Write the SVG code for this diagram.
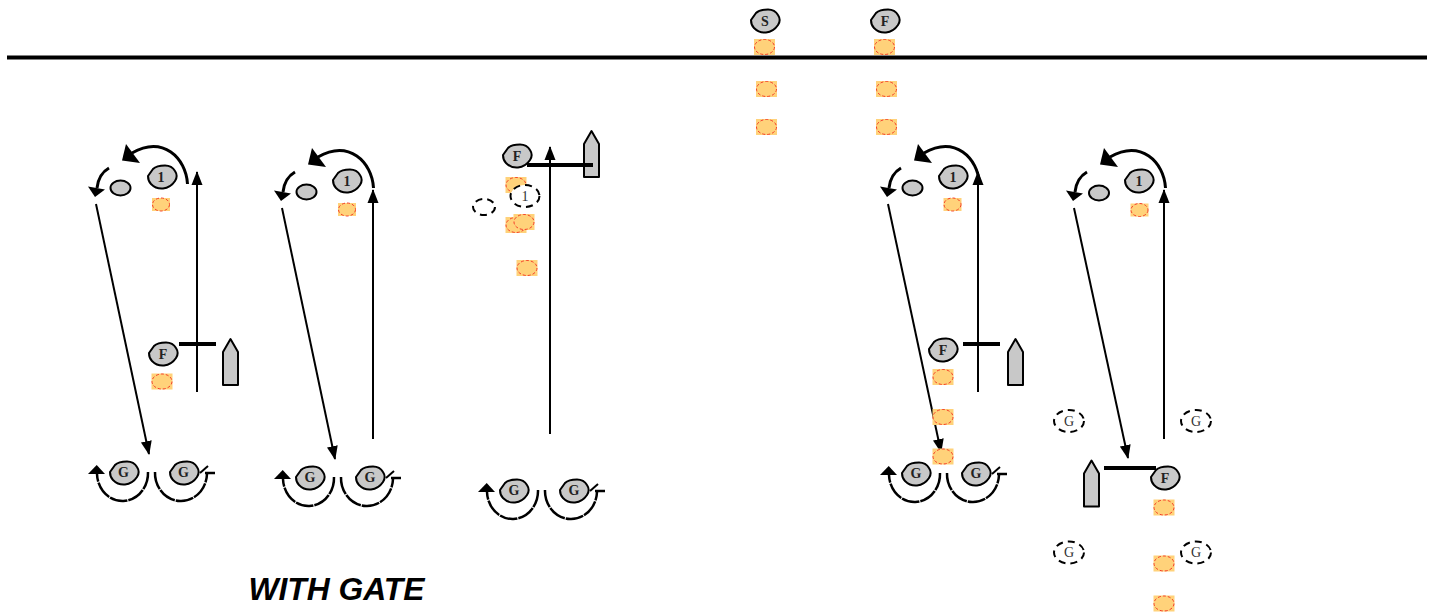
<svg xmlns="http://www.w3.org/2000/svg" width="1435" height="615" viewBox="0 0 1435 615">
<style>
text{font-family:"Liberation Serif","Times New Roman",serif;text-anchor:middle}
.pl{fill:#c8c8c8;stroke:#000;stroke-width:2;stroke-linejoin:round}
.lb{font-size:14px;font-weight:bold;fill:#222}
.gh{fill:#fff;stroke:#000;stroke-width:2;stroke-dasharray:7 5}
.gt{font-size:14px;fill:#333}
.c{fill:none;stroke:#000;stroke-width:2}
.t{fill:none;stroke:#000;stroke-width:3}
.b{fill:none;stroke:#000;stroke-width:2.500;stroke-dasharray:18 1}
.bar{stroke:#000;stroke-width:4}
.hd{fill:#000}
</style>
<defs>
<path id="pp" class="pl" d="M-14,-1 L-9,-8 C-6,-11 -2,-11.500 3,-11.500 C8,-11.500 11,-9.500 13,-6 C15,-3 15,1 13,4 C10,8.500 6,11 1,11.500 C-4,12 -8,10 -11,7 C-13,5 -14,2 -14,-1 Z"/>
<path id="bt" class="pl" d="M-7.500,46 L-7.500,13 L0,0 L7.500,13 L7.500,46 Z"/>
<g id="tg"><rect x="-10.500" y="-8" width="21" height="16" fill="#ffd27a"/><ellipse rx="10" ry="7.500" fill="#ffd27a" stroke="#f53c28" stroke-width="1" stroke-dasharray="3 2"/></g>
<g id="ts"><rect x="-9" y="-6.500" width="18" height="13" fill="#ffd27a"/><ellipse rx="8.500" ry="6.500" fill="#ffd27a" stroke="#f53c28" stroke-width="1" stroke-dasharray="3 2"/></g>
<marker id="ah" markerUnits="userSpaceOnUse" markerWidth="14" markerHeight="12" refX="13" refY="6" orient="auto"><path class="hd" d="M0,0.500 L14,6 L0,11.500 Z"/></marker>
<g id="turn">
<path class="t" d="M187.500,184 C186,158 163,135 132,153"/>
<path class="hd" d="M126,144 L140,163 L122,160.500 Z"/>
<path class="t" d="M109,168 C102,172 98,179 97,188"/>
<path class="hd" d="M88,186.500 L105,189.500 L95,197 Z"/>
</g>
<g id="pair">
<path class="b" d="M148,472 A25.500,28 0 0 1 97,474"/>
<path class="hd" d="M88,474 L96.700,465 L105,474 Z"/>
<path class="b" d="M155,472 A26,28 0 0 0 207,474"/>
<path d="M200,473 L208,466" stroke="#000" stroke-width="2"/>
<path d="M205,473 L215,473" stroke="#000" stroke-width="2.500"/>
</g>
</defs>

<g id="connectors">
<line x1="7" y1="57.500" x2="1427" y2="57.500" stroke="#000" stroke-width="4"/>
<use href="#turn"/>
<line class="c" x1="96" y1="204" x2="149" y2="454" marker-end="url(#ah)"/>
<line class="c" x1="197" y1="392" x2="197" y2="172" marker-end="url(#ah)"/>
<use href="#pair"/>
<use href="#turn" transform="translate(186,4)"/>
<line class="c" x1="282" y1="208" x2="335" y2="459" marker-end="url(#ah)"/>
<line class="c" x1="373" y1="439" x2="373" y2="190" marker-end="url(#ah)"/>
<use href="#pair" transform="translate(186,5)"/>
<line class="c" x1="550" y1="434" x2="550" y2="147" marker-end="url(#ah)"/>
<use href="#pair" transform="translate(390,18)"/>
<use href="#turn" transform="translate(792,0)"/>
<line class="c" x1="888" y1="204" x2="941" y2="452" marker-end="url(#ah)"/>
<line class="c" x1="978" y1="392" x2="978" y2="172" marker-end="url(#ah)"/>
<use href="#pair" transform="translate(792,1)"/>
<use href="#turn" transform="translate(978,4)"/>
<line class="c" x1="1074" y1="208" x2="1128" y2="458" marker-end="url(#ah)"/>
<line class="c" x1="1164" y1="439" x2="1164" y2="190" marker-end="url(#ah)"/>
</g>

<g id="top-s"><use href="#pp" x="765" y="21"/><text class="lb" x="765" y="25.500">S</text><use href="#tg" x="764.500" y="47"/><use href="#tg" x="766.500" y="89"/><use href="#tg" x="766.500" y="127"/></g>
<g id="top-f"><use href="#pp" x="885" y="21"/><text class="lb" x="885" y="25.500">F</text><use href="#tg" x="884.500" y="47"/><use href="#tg" x="886.500" y="89"/><use href="#tg" x="886.500" y="127"/></g>

<g id="set1">
<use href="#pp" x="162" y="177"/><text class="lb" x="161" y="181.500">1</text>
<ellipse class="pl" cx="120.500" cy="188" rx="10" ry="7.500"/>
<use href="#ts" x="161" y="204.500"/>
<use href="#pp" x="163" y="354"/><text class="lb" x="163" y="358.500">F</text>
<use href="#tg" x="162" y="381.500"/>
<line class="bar" x1="179" y1="344" x2="216" y2="344"/>
<use href="#bt" x="230.500" y="339"/>
<use href="#pp" x="124" y="473"/><text class="lb" x="123.500" y="477">G</text>
<use href="#pp" x="184" y="473"/><text class="lb" x="183.500" y="477">G</text>
</g>

<g id="set2">
<use href="#pp" x="347" y="181"/><text class="lb" x="347" y="185.500">1</text>
<ellipse class="pl" cx="306.500" cy="192" rx="10" ry="7.500"/>
<use href="#ts" x="347" y="209.500"/>
<use href="#pp" x="310" y="478"/><text class="lb" x="310" y="482">G</text>
<use href="#pp" x="370" y="478"/><text class="lb" x="370" y="482">G</text>
</g>

<g id="set3">
<use href="#tg" x="516" y="185"/><use href="#tg" x="516" y="225"/><use href="#tg" x="524" y="222"/><use href="#tg" x="527" y="268"/>
<ellipse class="gh" cx="525" cy="196" rx="14.500" ry="11"/><text class="gt" x="525" y="200.500">1</text>
<ellipse class="gh" cx="484" cy="207" rx="11" ry="8"/>
<line class="bar" x1="527" y1="165" x2="593" y2="165"/>
<use href="#pp" x="517" y="156"/><text class="lb" x="517" y="160.500">F</text>
<use href="#bt" x="591.500" y="131"/>
<line class="bar" x1="527" y1="165" x2="593" y2="165"/>
<use href="#pp" x="514" y="491"/><text class="lb" x="514" y="495">G</text>
<use href="#pp" x="574" y="491"/><text class="lb" x="574" y="495">G</text>
</g>

<g id="set5">
<use href="#pp" x="953" y="177"/><text class="lb" x="953" y="181.500">1</text>
<ellipse class="pl" cx="912.500" cy="188" rx="10" ry="7.500"/>
<use href="#ts" x="952.500" y="204.500"/>
<use href="#pp" x="943" y="350"/><text class="lb" x="943" y="354.500">F</text>
<use href="#tg" x="943" y="377"/><use href="#tg" x="943" y="417"/><use href="#tg" x="943" y="456.500"/>
<line class="bar" x1="963" y1="344" x2="1000" y2="344"/>
<use href="#bt" x="1015.500" y="339"/>
<use href="#pp" x="916" y="474"/><text class="lb" x="916" y="478">G</text>
<use href="#pp" x="976" y="474"/><text class="lb" x="976" y="478">G</text>
</g>

<g id="set6">
<use href="#pp" x="1139" y="181"/><text class="lb" x="1139" y="185.500">1</text>
<ellipse class="pl" cx="1099" cy="193" rx="10" ry="7.500"/>
<use href="#ts" x="1139.500" y="210"/>
<line class="bar" x1="1104" y1="468" x2="1156" y2="468"/>
<use href="#bt" x="1091.500" y="460.500"/>
<use href="#pp" x="1165" y="478"/><text class="lb" x="1165" y="482.500">F</text>
<use href="#tg" x="1164" y="507.500"/><use href="#tg" x="1164" y="563.500"/><use href="#tg" x="1164" y="603.500"/>
<ellipse class="gh" cx="1069" cy="421" rx="15" ry="11"/><text class="gt" x="1069" y="425.500">G</text>
<ellipse class="gh" cx="1196" cy="421" rx="15" ry="11"/><text class="gt" x="1196" y="425.500">G</text>
<ellipse class="gh" cx="1069" cy="552.500" rx="15" ry="11"/><text class="gt" x="1069" y="557">G</text>
<ellipse class="gh" cx="1196" cy="552.500" rx="15" ry="11"/><text class="gt" x="1196" y="557">G</text>
</g>

<text x="336.500" y="600" font-size="31.800" font-weight="bold" font-style="italic" style="font-family:'Liberation Sans',Arial,sans-serif">WITH GATE</text>
</svg>
